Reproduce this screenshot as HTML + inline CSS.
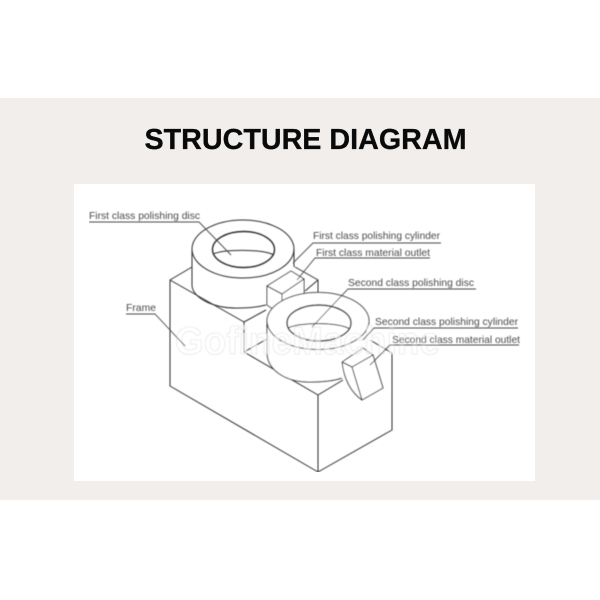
<!DOCTYPE html>
<html><head><meta charset="utf-8"><style>
html,body{margin:0;padding:0;background:#fff;width:600px;height:600px;overflow:hidden}
svg{display:block}
text{font-family:"Liberation Sans",sans-serif}
</style></head><body>
<svg width="600" height="600" viewBox="0 0 600 600" xmlns="http://www.w3.org/2000/svg">
<defs><filter id="b" x="0" y="0" width="100%" height="100%"><feGaussianBlur stdDeviation="0.4"/></filter></defs>
<rect width="600" height="600" fill="#fff"/>
<rect y="98" width="600" height="402" fill="#f1eeeb"/>
<rect x="74" y="184" width="461" height="297" fill="#fff"/>
<text x="305.5" y="149" font-size="28.5" font-weight="bold" text-anchor="middle" textLength="322" lengthAdjust="spacingAndGlyphs" fill="#0a0a0a" stroke="#0a0a0a" stroke-width="0.3">STRUCTURE DIAGRAM</text>
<g filter="url(#b)">
<g fill="none" stroke="#2e2e2e" stroke-width="1" stroke-linejoin="round">
<path d="M192 267L170 280L244 322L266 310"/>
<path d="M170 280V386L318 472L392 430V353L370 340"/>
<path d="M244 322V352L318 395L343 380"/>
<path d="M318 395V472"/>
<path d="M244 352L267 339"/>
<path d="M295 267L318 280V293M305 291L318 280"/>
<ellipse cx="243" cy="249" rx="51" ry="29"/>
<path d="M192 249V285C192 298 214 309 240 308C250 308 258 307 266 305"/>
<path d="M294 249V267"/>
<ellipse cx="243.500" cy="249.500" rx="31" ry="18" stroke-width="1.400"/>
<path d="M213 254C225 249 262 249 274 255"/>
<path fill="#fff" d="M267 286L291 271L304 279L304 302L282 315L267 305Z"/>
<path d="M267 286L282 294L304 279M282 294V315"/>
<path fill="#fff" d="M267 321C267 305 290 293 318 293C346 293 369 305 369 321C369 327 366 333 361 338L343 360L342 378C332 381 322 382 310 382C285 382 267 370 267 352Z" stroke="none"/>
<ellipse cx="318" cy="321" rx="51" ry="28.500"/>
<path d="M267 321V352C267 370 285 382 310 382C322 382 333 381 342 378"/>
<ellipse cx="319" cy="323" rx="32" ry="18" stroke-width="1.400"/>
<path d="M288 328C300 322 338 322 350 329"/>
<path fill="#fff" d="M342 362L363 348L373 355L383 388L362 400C352 393 344 380 342 362Z"/>
<path d="M342 362L352 367L373 355M352 367L362 400"/>
</g>
<text x="175" y="354" font-size="39" font-weight="bold" fill="#fff" fill-opacity="0.6" stroke="#e0e0e0" stroke-width="0.600" textLength="265" lengthAdjust="spacingAndGlyphs">GofineMachine</text>
<g fill="none" stroke="#4a4a4a" stroke-width="0.900">
<path d="M89 222H199L231 255"/>
<path d="M126 314H155L185 346"/>
<path d="M441 243H313L293 263"/>
<path d="M430 258H315L297 280"/>
<path d="M476 289H348L312 327"/>
<path d="M518 328H374L363 340"/>
<path d="M519 345H390L370 365"/>
</g>
<g font-size="10.500" fill="#4a4a4a">
<text x="89" y="219" textLength="111" lengthAdjust="spacingAndGlyphs">First class polishing disc</text>
<text x="126" y="311" textLength="30" lengthAdjust="spacingAndGlyphs">Frame</text>
<text x="313" y="239" textLength="127" lengthAdjust="spacingAndGlyphs">First class polishing cylinder</text>
<text x="316" y="256" textLength="114" lengthAdjust="spacingAndGlyphs">First class material outlet</text>
<text x="348" y="286" textLength="126" lengthAdjust="spacingAndGlyphs">Second class polishing disc</text>
<text x="375" y="325" textLength="143" lengthAdjust="spacingAndGlyphs">Second class polishing cylinder</text>
<text x="392" y="343" textLength="128" lengthAdjust="spacingAndGlyphs">Second class material outlet</text>
</g>
</g>
</svg>
</body></html>
